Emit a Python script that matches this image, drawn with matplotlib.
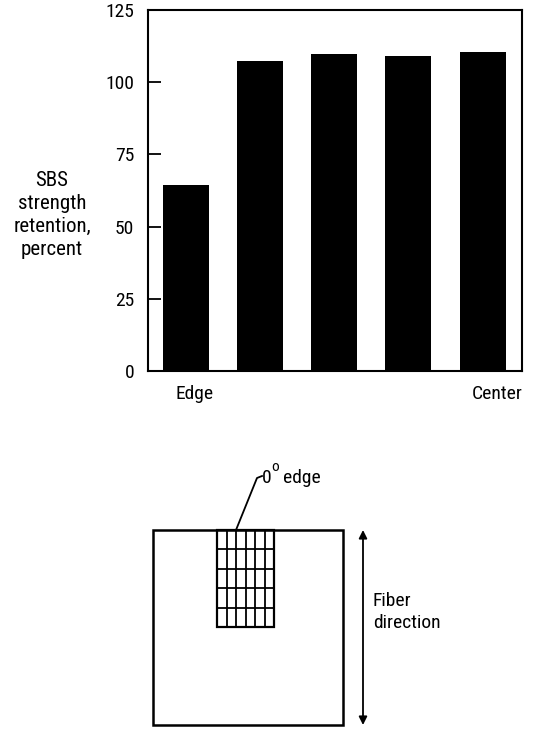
import matplotlib.pyplot as plt
from matplotlib.patches import Rectangle

# Bar chart data
positions = [0, 1, 2, 3, 4]
retention = [64.5, 107.3, 109.7, 109.0, 110.4]
yticks = [0, 25, 50, 75, 100, 125]
xtick_pos = [0.12, 4.19]
xtick_labels = ["Edge", "Center"]
ylabel_lines = ["SBS", "strength", "retention,", "percent"]

# Specimen sketch (pixel-like coords for the schematic)
plate = (153, 530, 190, 195)      # x, y, w, h
grid = (217, 530, 57, 97)         # x, y, w, h
grid_cols = 6
grid_rows = 5

plt.rcParams["font.family"] = ["DejaVu Sans Condensed", "Liberation Sans Narrow",
                               "Roboto Condensed", "Roboto"]
fs = 14

fig = plt.figure(figsize=(5.42, 7.29), dpi=100)

# ===============================
# bar chart
# ===============================
ax = fig.add_axes([148 / 542, 1 - 371 / 729, 374 / 542, 361 / 729])
ax.bar(positions, retention, width=0.62, color="black")
ax.set_xlim(-0.51, 4.53)
ax.set_ylim(0, 125)
ax.set_yticks(yticks)
ax.set_yticklabels([str(v) for v in yticks], fontsize=fs)
ax.set_xticks(xtick_pos)
ax.set_xticklabels(xtick_labels, fontsize=fs)
ax.tick_params(axis="y", direction="in", length=9, width=1.3, pad=10)
ax.tick_params(axis="x", length=0, pad=10)
for s in ax.spines.values():
    s.set_linewidth(1.5)

fig.text(52 / 542, 1 - 215 / 729, "\n".join(ylabel_lines), ha="center",
         va="center", multialignment="center", fontsize=15, linespacing=1.25)

# ===============================
# specimen sketch
# ===============================
ax2 = fig.add_axes([0, 0, 1, 1])
ax2.set_xlim(0, 542)
ax2.set_ylim(729, 0)
ax2.axis("off")

px, py, pw, ph = plate
ax2.add_patch(Rectangle((px, py), pw, ph, fill=False, lw=1.8, ec="black"))

gx, gy, gw, gh = grid
ax2.add_patch(Rectangle((gx, gy), gw, gh, fill=False, lw=1.6, ec="black"))
for i in range(1, grid_cols):
    x = gx + gw * i / grid_cols
    ax2.plot([x, x], [gy, gy + gh], color="black", lw=1.3)
for j in range(1, grid_rows):
    y = gy + gh * j / grid_rows
    ax2.plot([gx, gx + gw], [y, y], color="black", lw=1.3)

# leader line to "0 deg edge"
ax2.plot([236, 257, 262], [py, 478, 476], color="black", lw=1.3)
ax2.text(262, 478, "0", fontsize=fs, va="center", ha="left")
ax2.text(271, 467, "o", fontsize=11, va="center", ha="left")
ax2.text(283, 478, "edge", fontsize=fs, va="center", ha="left")

# fiber direction arrow
ax2.annotate("", xy=(363, py), xytext=(363, py + ph),
             arrowprops=dict(arrowstyle="<|-|>", color="black", lw=1.3,
                             mutation_scale=12, shrinkA=0, shrinkB=0))
ax2.text(373, 612, "Fiber\ndirection", fontsize=fs, va="center", ha="left",
         linespacing=1.25)

fig.savefig("out.png", dpi=100)
